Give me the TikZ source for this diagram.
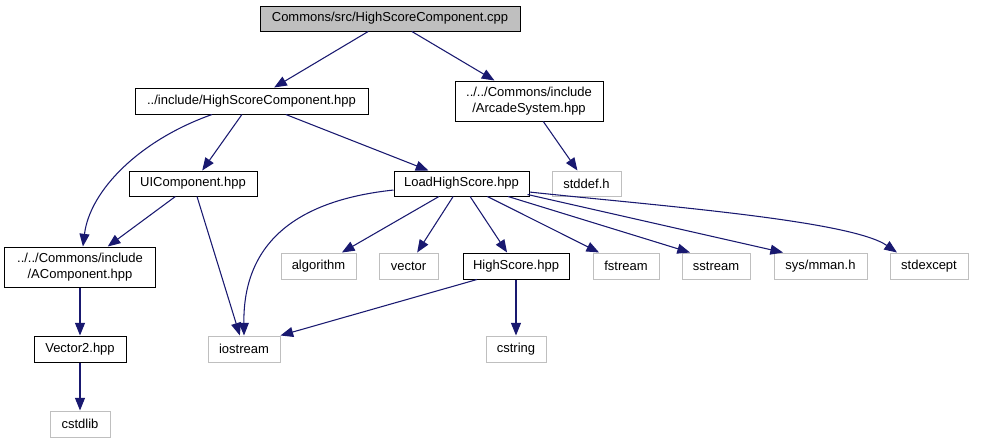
\documentclass[tikz,border=0pt]{standalone}
\usepackage{fontspec}
\setmainfont{Liberation Sans}
\usetikzlibrary{arrows.meta}
\definecolor{edgeblue}{HTML}{191970}
\definecolor{boxgray}{HTML}{BFBFBF}
\tikzset{
  box/.style 2 args={draw=black, line width=0.75pt, fill=white, inner sep=0pt,
    minimum width=#1*0.75pt, minimum height=#2*0.75pt, align=center,
    font=\fontsize{9.75}{11.75}\selectfont},
  sysbox/.style 2 args={box={#1}{#2}, draw=boxgray},
  edge/.style={draw=edgeblue, line width=0.8pt, -{Triangle[length=9.5pt,width=7.5pt]}, fill=none}
}
\begin{document}
\begin{tikzpicture}[x=0.75pt,y=-0.75pt]
\useasboundingbox (0,0) rectangle (983,443);
% nodes
\node[box={260}{25}, fill=boxgray] (top) at (390,18.5) {Commons/src/HighScoreComponent.cpp};
\node[box={233}{26}] (hsc) at (251.5,101) {../include/HighScoreComponent.hpp};
\node[box={148}{40}] (arc) at (529,101) {../../Commons/include\\/ArcadeSystem.hpp};
\node[box={128}{25}] (ui) at (193,183.5) {UIComponent.hpp};
\node[box={135}{25}] (lhs) at (461.5,183.5) {LoadHighScore.hpp};
\node[sysbox={69}{25}] (stddef) at (586.5,183.5) {stddef.h};
\node[box={151}{40}] (acomp) at (80,267) {../../Commons/include\\/AComponent.hpp};
\node[sysbox={75}{26}] (algorithm) at (318.5,266) {algorithm};
\node[sysbox={59}{26}] (vector) at (408.5,266) {vector};
\node[box={106}{26}] (hs) at (516,266) {HighScore.hpp};
\node[sysbox={66}{26}] (fstream) at (626,266) {fstream};
\node[sysbox={68}{26}] (sstream) at (716,266) {sstream};
\node[sysbox={93}{26}] (mman) at (820.5,266) {sys/mman.h};
\node[sysbox={78}{26}] (stdexcept) at (929,266) {stdexcept};
\node[box={92}{26}] (vec2) at (80,349) {Vector2.hpp};
\node[sysbox={72}{26}] (iostream) at (244,349) {iostream};
\node[sysbox={60}{26}] (cstring) at (516,349) {cstring};
\node[sysbox={60}{26}] (cstdlib) at (80,424) {cstdlib};
% edges
\draw[edge] (top) -- (hsc);
\draw[edge] (top) -- (arc);
\draw[edge] (arc) -- (stddef);
\draw[edge] (hsc) -- (ui);
\draw[edge] (hsc) -- (lhs);
\draw[edge] ([xshift=-29.6pt]hsc.south) .. controls (140,140) and (90,190) .. ([xshift=2.2pt]acomp.north);
\draw[edge] (ui) -- (acomp);
\draw[edge] (ui) -- (iostream);
\draw[edge] ([yshift=-4.9pt]lhs.west) .. controls (300,200) and (243,240) .. (iostream.north);
\draw[edge] (lhs) -- (algorithm);
\draw[edge] (lhs) -- (vector);
\draw[edge] (lhs) -- (hs);
\draw[edge] (lhs) -- (fstream);
\draw[edge] ([xshift=34.9pt]lhs.south) -- ([xshift=-19.5pt]sstream.north);
\draw[edge] ([xshift=-1.5pt,yshift=1.5pt]lhs.south east) -- ([xshift=-28.1pt]mman.north);
\draw[edge] ([yshift=-6.4pt]lhs.east) .. controls (650,205) and (850,220) .. ([xshift=-24pt]stdexcept.north);
\draw[edge] ([xshift=-29.25pt]hs.south) -- (iostream.north east);
\draw[edge] (hs) -- (cstring);
\draw[edge] (acomp) -- (vec2);
\draw[edge] (vec2) -- (cstdlib);
\end{tikzpicture}
\end{document}
